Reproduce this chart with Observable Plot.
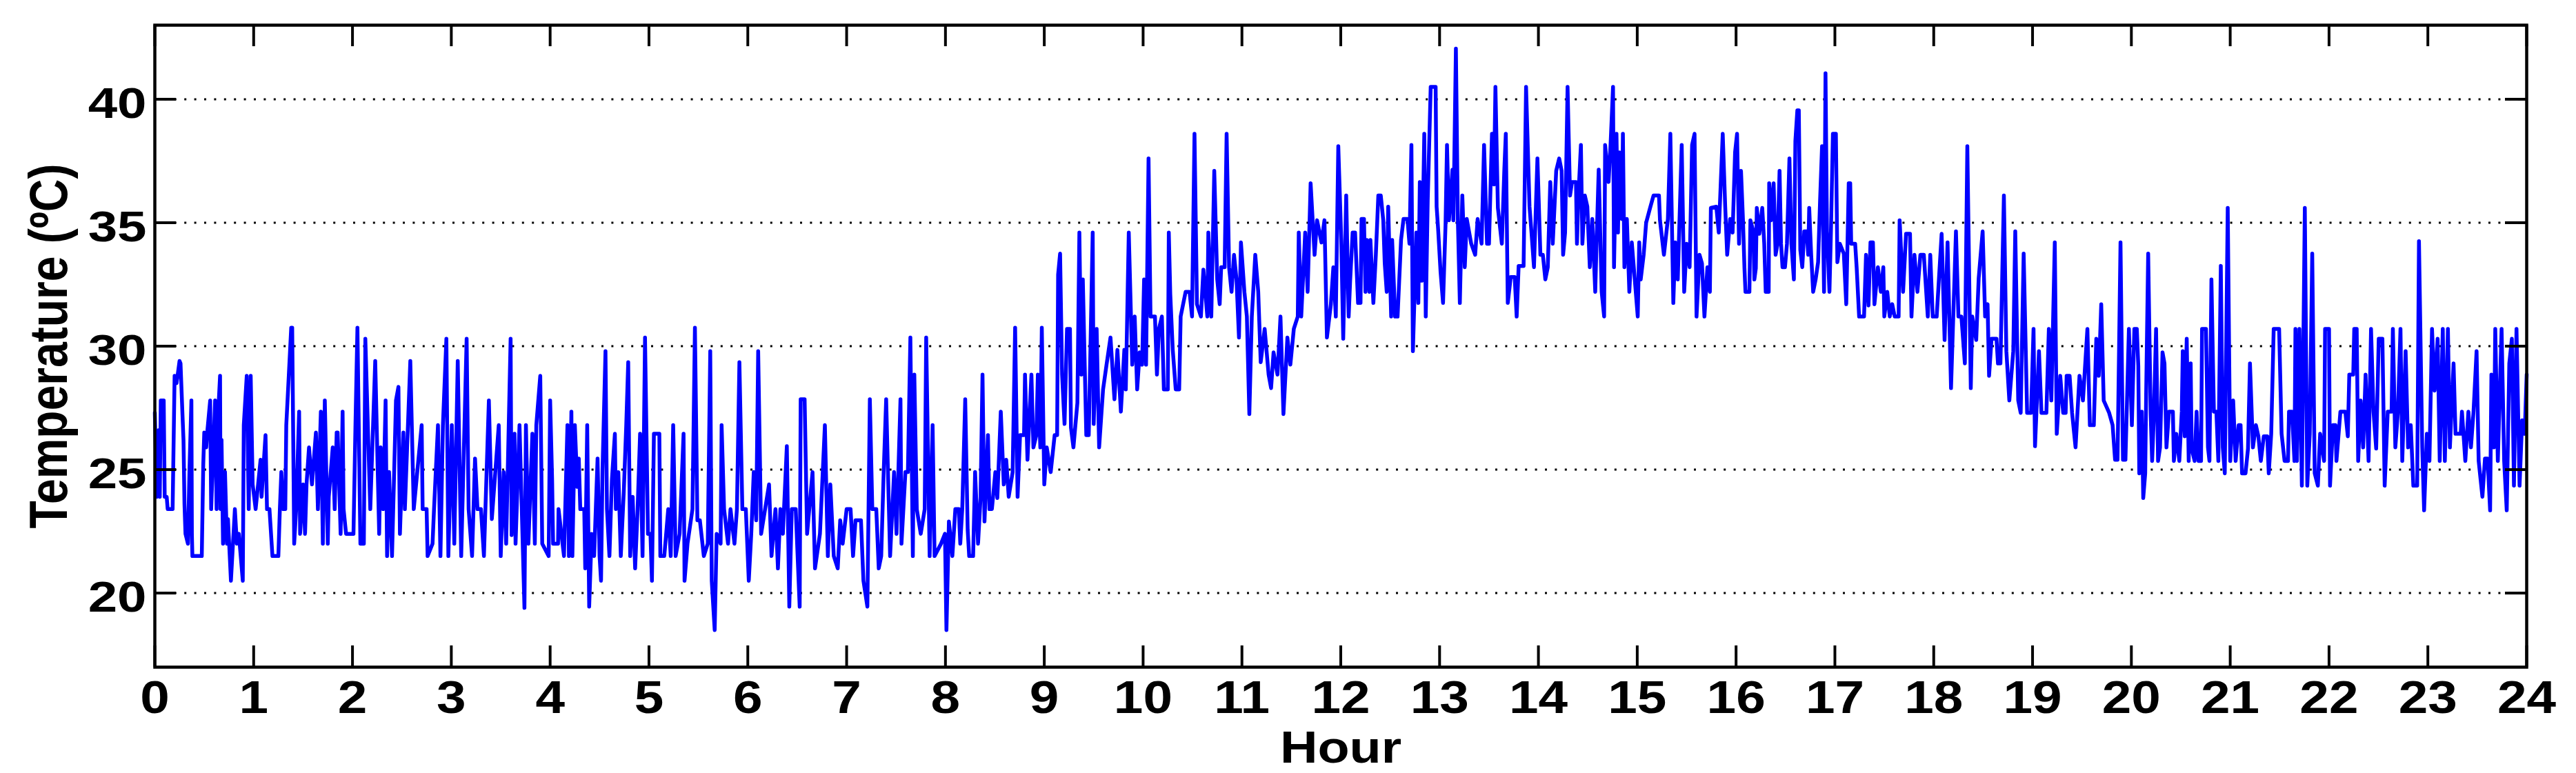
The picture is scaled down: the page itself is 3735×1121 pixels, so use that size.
<!DOCTYPE html>
<html>
<head>
<meta charset="utf-8">
<script src="https://cdn.jsdelivr.net/npm/d3@7"></script>
<script src="https://cdn.jsdelivr.net/npm/@observablehq/plot@0.6"></script>
<style>
html, body { margin: 0; padding: 0; background: #ffffff; }
#chart svg { display: block; }
</style>
</head>
<body>
<div id="chart"></div>
<script>
// ---------- tick values & labels ----------
const xTickValues = [0,1,2,3,4,5,6,7,8,9,10,11,12,13,14,15,16,17,18,19,20,21,22,23,24];
const yTickValues = [20,25,30,35,40];
const xTitle = "Hour";
const yTitle = "Temperature (ºC)";

// ---------- series: [hour, temperature °C] ----------
const hours00to04 = [
[0.00,27.3],[0.02,23.9],[0.04,26.6],[0.05,23.9],[0.06,27.8],[0.09,27.8],[0.10,23.9],[0.12,23.9],[0.13,23.4],[0.18,23.4],
[0.20,28.8],[0.22,28.5],[0.25,29.4],[0.26,29.3],[0.28,27.2],[0.29,26.2],[0.30,23.6],[0.31,22.4],[0.335,22.0],[0.35,24.9],
[0.37,27.8],[0.375,22.4],[0.38,21.5],[0.475,21.5],[0.49,25.2],[0.50,26.5],[0.52,25.9],[0.53,26.5],[0.56,27.8],[0.57,23.4],
[0.61,27.8],[0.625,23.4],[0.64,27.2],[0.66,28.8],[0.665,23.4],[0.675,26.2],[0.69,22.0],[0.71,24.9],[0.73,22.0],[0.74,23.0],
[0.77,20.5],[0.81,23.4],[0.83,22.0],[0.85,22.4],[0.89,20.5],[0.90,26.8],[0.93,28.8],[0.95,23.4],[0.97,28.8],[0.99,24.4],
[1.02,23.4],[1.045,24.4],[1.07,25.4],[1.08,23.9],[1.12,26.4],[1.135,23.4],[1.16,23.4],[1.19,21.5],[1.25,21.5],[1.265,23.4],
[1.28,24.9],[1.30,23.4],[1.32,23.4],[1.33,26.8],[1.38,30.75],[1.39,30.75],[1.41,22.0],[1.43,23.4],[1.46,27.35],[1.47,22.4],
[1.50,24.4],[1.52,22.4],[1.535,24.4],[1.56,25.9],[1.59,24.4],[1.63,26.5],[1.65,23.4],[1.68,27.35],[1.70,22.0],[1.72,27.8],
[1.75,22.0],[1.76,23.9],[1.80,25.9],[1.82,23.4],[1.84,26.5],[1.85,26.5],[1.88,22.4],[1.90,27.35],[1.91,23.4],[1.935,22.4],
[2.01,22.4],[2.03,26.8],[2.05,30.75],[2.08,22.0],[2.115,22.0],[2.13,30.3],[2.18,23.4],[2.23,29.4],[2.27,22.4],[2.285,25.9],
[2.31,23.4],[2.335,27.8],[2.35,21.5],[2.37,24.9],[2.40,21.5],[2.44,27.8],[2.465,28.35],[2.48,22.4],[2.515,26.5],[2.53,23.4],
[2.585,29.4],[2.62,23.4],[2.70,26.8],[2.71,23.4],[2.75,23.4],[2.76,21.5],[2.81,22.0],[2.825,23.4],[2.865,26.8],[2.89,21.5],
[2.915,26.8],[2.95,30.3],[2.97,21.5],[3.005,26.8],[3.03,22.0],[3.065,29.4],[3.10,21.5],[3.155,30.3],[3.175,23.4],[3.21,21.5],
[3.24,25.45],[3.265,23.4],[3.30,23.4],[3.33,21.5],[3.38,27.8],[3.41,23.0],[3.48,26.8],[3.50,21.5],[3.53,24.9],[3.555,22.0],
[3.60,30.3],[3.61,22.35],[3.64,26.45],[3.65,22.0],[3.69,26.8],[3.74,19.4],[3.755,26.8],[3.78,22.0],[3.82,26.45],[3.845,22.0],
[3.86,26.8],[3.90,28.8],[3.92,22.0],[3.985,21.5]
];
const hours04to08 = [
[4.00,27.8],[4.02,24.6],[4.03,22.0],[4.08,22.0],[4.085,23.4],[4.14,21.5],[4.175,26.8],[4.19,21.5],[4.215,27.35],[4.225,21.5],
[4.25,26.8],[4.275,24.3],[4.29,25.45],[4.305,23.4],[4.345,23.4],[4.355,21.0],[4.375,26.8],[4.395,19.45],[4.42,22.4],[4.445,21.5],
[4.48,25.45],[4.50,21.5],[4.515,20.5],[4.53,25.0],[4.56,29.8],[4.575,23.4],[4.60,21.5],[4.625,24.6],[4.655,26.45],[4.665,23.4],
[4.69,24.9],[4.715,21.5],[4.745,24.1],[4.77,26.8],[4.79,29.35],[4.81,21.5],[4.835,23.9],[4.86,21.0],[4.885,23.4],[4.91,26.45],
[4.935,21.5],[4.96,30.35],[4.99,22.4],[5.015,22.4],[5.03,20.5],[5.05,26.45],[5.105,26.45],[5.115,21.5],[5.155,21.5],[5.195,23.4],
[5.22,21.5],[5.245,26.8],[5.27,21.5],[5.31,22.4],[5.35,26.45],[5.36,20.5],[5.39,22.0],[5.44,23.4],[5.465,30.75],[5.49,22.95],
[5.515,22.95],[5.555,21.5],[5.595,22.0],[5.62,29.8],[5.635,20.5],[5.665,18.5],[5.685,22.4],[5.725,22.0],[5.735,26.8],[5.76,23.4],
[5.80,22.0],[5.825,23.4],[5.865,22.0],[5.89,23.4],[5.915,29.35],[5.945,23.4],[5.98,23.4],[6.01,20.5],[6.035,22.4],[6.06,24.9],
[6.085,22.95],[6.105,29.8],[6.135,22.4],[6.175,23.4],[6.215,24.4],[6.24,21.5],[6.28,23.4],[6.305,21.0],[6.33,23.4],[6.355,22.4],
[6.395,25.95],[6.42,19.45],[6.445,23.4],[6.485,23.4],[6.525,19.45],[6.535,27.85],[6.575,27.85],[6.60,22.4],[6.655,24.9],[6.68,21.0],
[6.73,22.4],[6.78,26.8],[6.81,21.5],[6.835,24.4],[6.87,21.5],[6.91,21.0],[6.935,22.95],[6.96,22.0],[7.00,23.4],[7.04,23.4],
[7.065,21.5],[7.09,22.95],[7.145,22.95],[7.17,20.5],[7.21,19.45],[7.235,27.85],[7.26,23.4],[7.30,23.4],[7.325,21.0],[7.35,21.5],
[7.375,24.9],[7.40,27.85],[7.44,21.5],[7.48,24.9],[7.505,22.4],[7.545,27.85],[7.555,22.0],[7.595,24.9],[7.62,24.9],[7.645,30.35],
[7.67,21.5],[7.685,28.85],[7.71,23.4],[7.75,22.4],[7.79,23.4],[7.805,30.35],[7.84,21.5],[7.87,26.8],[7.89,21.5],[7.955,22.0],
[7.995,22.4],[8.01,18.5]
];
const hours08to12 = [
[8.035,22.9],[8.07,21.5],[8.10,23.4],[8.135,23.4],[8.15,22.0],[8.17,23.4],[8.20,27.85],[8.225,22.55],[8.24,21.5],[8.28,21.5],
[8.30,24.9],[8.33,22.0],[8.355,23.85],[8.375,28.85],[8.395,22.9],[8.43,26.4],[8.445,23.4],[8.47,23.4],[8.505,24.9],[8.525,23.85],
[8.56,27.35],[8.59,24.4],[8.615,25.4],[8.64,23.9],[8.68,24.9],[8.705,30.75],[8.73,23.9],[8.755,26.4],[8.795,26.4],[8.805,28.85],
[8.83,25.4],[8.87,28.85],[8.89,25.9],[8.92,26.4],[8.935,28.85],[8.96,25.9],[8.975,30.75],[9.00,24.4],[9.025,25.9],[9.065,24.9],
[9.105,26.4],[9.13,26.4],[9.14,32.9],[9.16,33.75],[9.18,28.85],[9.205,26.85],[9.23,30.7],[9.26,30.7],[9.27,26.7],[9.295,25.9],
[9.335,27.7],[9.355,34.6],[9.375,28.85],[9.39,32.7],[9.425,26.4],[9.45,26.4],[9.49,34.6],[9.50,26.85],[9.53,30.7],[9.555,25.9],
[9.595,28.25],[9.63,29.25],[9.67,30.35],[9.71,27.85],[9.74,29.85],[9.775,27.35],[9.81,29.85],[9.825,28.25],[9.855,34.6],[9.89,29.25],
[9.915,31.2],[9.94,28.25],[9.965,29.75],[9.99,29.25],[10.01,32.7],[10.03,29.25],[10.055,37.6],[10.075,31.2],[10.12,31.2],[10.14,28.85],
[10.16,30.7],[10.19,31.2],[10.21,28.25],[10.25,28.25],[10.26,34.6],[10.275,32.1],[10.30,29.85],[10.33,28.25],[10.365,28.25],[10.38,31.2],
[10.43,32.2],[10.47,32.2],[10.495,31.2],[10.52,38.6],[10.545,31.7],[10.585,31.2],[10.61,33.1],[10.65,31.2],[10.66,34.6],[10.69,31.2],
[10.72,37.1],[10.75,32.7],[10.775,31.7],[10.79,33.2],[10.825,33.2],[10.845,38.6],[10.87,33.2],[10.895,32.2],[10.92,33.7],[10.945,32.7],
[10.97,30.35],[10.99,34.2],[11.025,32.2],[11.05,31.2],[11.075,27.25],[11.10,31.2],[11.135,33.7],[11.165,32.2],[11.19,29.35],[11.23,30.7],
[11.27,28.85],[11.295,28.3],[11.32,29.75],[11.36,28.85],[11.39,31.2],[11.42,27.25],[11.46,30.35],[11.49,29.25],[11.525,30.7],[11.565,31.2],
[11.575,34.6],[11.60,31.2],[11.64,34.6],[11.665,32.2],[11.695,36.6],[11.735,33.7],[11.76,35.1],[11.805,34.2],[11.835,35.1],[11.86,30.35],
[11.90,31.7],[11.925,33.2],[11.95,31.2],[11.975,38.1]
];
const hours12to16 = [
[12.005,34.3],[12.025,30.3],[12.055,36.1],[12.08,31.2],[12.095,32.65],[12.12,34.6],[12.145,34.6],[12.175,31.75],[12.20,31.75],[12.21,35.15],
[12.235,35.15],[12.25,32.2],[12.265,34.3],[12.29,32.2],[12.30,34.3],[12.33,31.75],[12.355,33.7],[12.38,36.1],[12.405,36.1],[12.43,35.1],
[12.445,33.35],[12.465,32.2],[12.48,35.65],[12.51,31.2],[12.52,34.3],[12.55,31.2],[12.575,31.2],[12.61,34.3],[12.635,35.15],[12.675,35.15],
[12.695,34.15],[12.715,38.15],[12.73,29.8],[12.765,34.6],[12.785,31.75],[12.80,36.65],[12.82,32.65],[12.845,38.6],[12.86,31.2],[12.88,35.9],
[12.91,40.5],[12.96,40.5],[12.97,35.65],[12.985,34.75],[13.01,33.0],[13.035,31.75],[13.06,34.9],[13.075,38.15],[13.095,35.1],[13.13,37.15],
[13.14,35.1],[13.165,42.05],[13.185,35.1],[13.205,31.75],[13.23,36.1],[13.255,33.2],[13.275,35.15],[13.32,34.15],[13.36,33.7],[13.385,35.15],
[13.425,34.15],[13.45,38.15],[13.48,34.15],[13.50,34.15],[13.53,38.6],[13.55,36.55],[13.565,40.5],[13.59,35.6],[13.63,34.15],[13.655,37.15],
[13.67,38.6],[13.69,31.75],[13.72,32.8],[13.76,32.8],[13.78,31.2],[13.80,33.25],[13.85,33.25],[13.875,40.5],[13.91,35.65],[13.93,34.6],
[13.955,33.2],[13.99,37.6],[14.02,33.7],[14.045,33.7],[14.07,32.7],[14.095,33.2],[14.12,36.65],[14.145,34.15],[14.18,37.1],[14.21,37.6],
[14.235,37.1],[14.25,33.7],[14.27,34.6],[14.295,40.5],[14.32,36.1],[14.34,36.65],[14.38,36.65],[14.39,34.15],[14.405,36.1],[14.43,38.15],
[14.445,34.15],[14.47,36.1],[14.495,35.65],[14.52,33.2],[14.545,35.15],[14.575,32.2],[14.585,33.7],[14.61,37.15],[14.64,32.2],[14.665,31.2],
[14.675,38.15],[14.71,36.65],[14.73,38.15],[14.755,40.5],[14.765,33.2],[14.79,38.6],[14.805,34.6],[14.82,37.85],[14.845,35.15],[14.855,38.6],
[14.87,33.2],[14.895,35.15],[14.92,32.2],[14.945,34.2],[14.975,32.7],[15.005,31.2],[15.02,34.2],[15.035,32.7],[15.065,33.7],[15.09,35.0],
[15.13,35.6],[15.165,36.1],[15.22,36.1],[15.23,35.1],[15.27,33.7],[15.31,35.15],[15.335,38.6],[15.365,31.75],[15.385,34.2],[15.41,32.7],
[15.45,38.15],[15.475,32.2],[15.50,34.15],[15.53,33.2],[15.555,38.15],[15.58,38.6],[15.60,31.2],[15.63,33.7],[15.655,33.35],[15.68,31.2],
[15.71,33.2],[15.735,32.2],[15.745,35.6],[15.80,35.65],[15.825,34.6],[15.865,38.6],[15.89,35.65],[15.91,33.7],[15.94,35.15],[15.965,34.6],
[15.99,37.85]
];
const hours16to20 = [
[16.01,38.6],[16.03,34.15],[16.05,37.1],[16.07,35.1],[16.085,33.15],[16.095,32.2],[16.135,32.2],[16.145,35.1],[16.175,34.65],[16.185,32.7],
[16.20,33.15],[16.21,35.6],[16.235,34.55],[16.265,35.6],[16.285,34.15],[16.30,32.2],[16.33,32.2],[16.335,36.6],[16.355,35.1],[16.38,36.6],
[16.40,33.7],[16.42,34.15],[16.44,37.1],[16.455,34.15],[16.47,33.2],[16.495,33.2],[16.515,34.15],[16.54,37.6],[16.56,34.15],[16.585,32.7],
[16.60,38.3],[16.62,39.55],[16.635,39.55],[16.65,33.9],[16.67,33.2],[16.69,34.65],[16.715,34.65],[16.73,33.7],[16.74,35.6],[16.76,33.7],
[16.78,32.2],[16.805,32.7],[16.83,33.4],[16.85,35.9],[16.87,38.1],[16.89,32.2],[16.905,41.05],[16.92,34.65],[16.945,32.2],[16.96,34.65],
[16.98,38.6],[17.01,38.6],[17.025,33.4],[17.05,34.15],[17.09,33.75],[17.115,31.7],[17.14,36.6],[17.155,36.6],[17.165,34.15],[17.205,34.15],
[17.22,33.2],[17.245,31.2],[17.295,31.2],[17.315,33.7],[17.34,31.65],[17.36,34.2],[17.385,34.2],[17.40,31.7],[17.435,33.2],[17.465,32.2],
[17.49,33.2],[17.50,31.2],[17.53,32.2],[17.555,31.2],[17.58,31.7],[17.605,31.2],[17.645,31.2],[17.655,35.1],[17.69,32.2],[17.72,34.55],
[17.76,34.55],[17.775,31.2],[17.805,33.7],[17.835,32.2],[17.865,33.7],[17.90,33.7],[17.94,31.2],[17.965,33.7],[17.99,31.2],[18.03,31.2],
[18.045,32.2],[18.08,34.55],[18.11,30.25],[18.14,34.2],[18.175,28.3],[18.225,34.65],[18.25,31.2],[18.28,31.2],[18.315,29.3],[18.34,38.1],
[18.375,28.3],[18.39,31.2],[18.43,30.25],[18.455,32.75],[18.495,34.65],[18.52,31.2],[18.545,31.7],[18.56,28.8],[18.585,30.3],[18.635,30.3],
[18.65,29.3],[18.675,29.3],[18.71,36.1],[18.735,29.8],[18.765,27.8],[18.805,29.8],[18.825,34.65],[18.855,27.8],[18.88,27.3],[18.91,33.75],
[18.945,27.3],[18.985,27.3],[19.01,30.7],[19.025,25.95],[19.065,29.8],[19.09,27.3],[19.14,27.3],[19.165,30.7],[19.19,27.8],[19.225,34.2],
[19.245,26.45],[19.28,28.8],[19.31,27.3],[19.335,27.3],[19.345,28.8],[19.375,28.8],[19.40,27.3],[19.435,25.9],[19.475,28.8],[19.51,27.8],
[19.555,30.7],[19.58,26.8],[19.62,26.8],[19.645,30.3],[19.67,28.8],[19.695,31.7],[19.72,27.8],[19.775,27.3],[19.81,26.8],[19.835,25.4],
[19.86,25.4],[19.89,34.2],[19.915,25.4],[19.94,25.4],[19.975,30.7]
];
const hours20to24 = [
[20.005,26.8],[20.03,30.7],[20.055,30.7],[20.07,29.2],[20.08,24.85],[20.105,27.35],[20.12,23.85],[20.14,24.85],[20.15,28.2],[20.17,33.75],
[20.195,27.25],[20.21,25.35],[20.225,26.9],[20.25,30.7],[20.27,25.35],[20.29,25.9],[20.315,29.75],[20.335,29.3],[20.355,25.9],[20.38,27.35],
[20.42,27.35],[20.43,25.35],[20.455,26.45],[20.485,25.35],[20.51,27.35],[20.52,29.8],[20.54,26.35],[20.56,30.3],[20.58,25.35],[20.60,29.3],
[20.61,25.85],[20.64,25.35],[20.66,27.35],[20.68,25.35],[20.705,25.35],[20.715,30.7],[20.755,30.7],[20.775,25.9],[20.79,25.35],[20.81,32.7],
[20.835,27.35],[20.86,27.35],[20.88,25.35],[20.905,33.25],[20.925,25.9],[20.945,24.85],[20.975,35.6],[21.0,25.35],[21.03,27.8],[21.055,25.35],
[21.085,26.8],[21.105,26.8],[21.12,24.85],[21.155,24.85],[21.18,25.85],[21.20,29.3],[21.23,25.9],[21.26,26.8],[21.285,26.35],[21.31,25.35],
[21.34,26.35],[21.375,26.35],[21.39,24.85],[21.415,26.45],[21.44,30.7],[21.495,30.7],[21.52,26.45],[21.55,25.35],[21.585,25.35],[21.595,27.35],
[21.625,27.35],[21.65,25.35],[21.66,30.7],[21.675,25.35],[21.70,30.7],[21.725,24.35],[21.755,35.6],[21.78,24.35],[21.805,26.45],[21.83,33.75],
[21.855,24.85],[21.887,24.35],[21.91,26.45],[21.95,25.35],[21.96,30.7],[22.0,30.7],[22.01,24.35],[22.04,26.8],[22.065,26.8],[22.075,25.35],
[22.115,27.35],[22.165,27.35],[22.19,26.35],[22.205,28.85],[22.245,28.85],[22.255,30.7],[22.28,30.7],[22.295,25.35],[22.32,27.8],[22.345,25.9],
[22.37,28.85],[22.40,25.35],[22.425,30.7],[22.45,27.35],[22.477,25.85],[22.503,30.3],[22.54,30.3],[22.563,24.35],[22.594,27.35],[22.633,27.35],
[22.646,30.7],[22.671,25.9],[22.697,27.35],[22.723,30.7],[22.741,25.35],[22.775,29.8],[22.80,25.9],[22.827,26.8],[22.853,24.35],[22.892,24.35],
[22.91,34.25],[22.943,25.9],[22.962,23.35],[22.99,26.45],[23.016,25.35],[23.042,30.7],[23.068,28.2],[23.099,30.3],[23.12,25.35],[23.151,30.7],
[23.172,25.35],[23.203,30.7],[23.223,25.9],[23.26,29.3],[23.28,26.45],[23.332,26.45],[23.345,27.35],[23.379,25.35],[23.41,27.35],[23.436,25.9],
[23.462,27.35],[23.493,29.8],[23.514,25.35],[23.552,23.9],[23.578,25.45],[23.604,25.45],[23.63,23.35],[23.643,28.85],[23.669,25.9],[23.682,30.7],
[23.708,25.35],[23.746,30.7],[23.772,25.35],[23.798,23.35],[23.824,29.3],[23.85,30.3],[23.871,24.35],[23.897,30.7],[23.928,24.35],[23.954,27.0],
[23.98,26.45],[24.0,28.85]
];

const series = [hours00to04, hours04to08, hours08to12, hours12to16, hours16to20, hours20to24]
  .flat()
  .map(([hour, temp]) => ({hour, temp}));

// ---------- layout ----------
const W = 3735, H = 1121;
const mL = 224, mR = 72, mT = 36, mB = 154;
const xDomain = [0, 24], yDomain = [17, 43];
const tickLen = 31;
const pxPerX = (W - mL - mR) / (xDomain[1] - xDomain[0]);
const pxPerY = (H - mT - mB) / (yDomain[1] - yDomain[0]);
const tX = tickLen / pxPerX, tY = tickLen / pxPerY;
const FONT = "'Liberation Sans', Arial, Helvetica, sans-serif";

const chart = Plot.plot({
  width: W, height: H,
  marginLeft: mL, marginRight: mR, marginTop: mT, marginBottom: mB,
  style: {background: "#ffffff", fontFamily: FONT, color: "black"},
  x: {domain: xDomain, axis: null},
  y: {domain: yDomain, axis: null},
  marks: [
    Plot.ruleY(yTickValues, {stroke: "black", strokeWidth: 3, strokeDasharray: "3,11.4"}),
    Plot.line(series, {x: "hour", y: "temp", stroke: "#0000ff", strokeWidth: 5.5}),
    Plot.ruleX(xTickValues, {y1: yDomain[0], y2: yDomain[0] + tY, stroke: "black", strokeWidth: 4}),
    Plot.ruleX(xTickValues, {y1: yDomain[1] - tY, y2: yDomain[1], stroke: "black", strokeWidth: 4}),
    Plot.ruleY(yTickValues, {x1: xDomain[0], x2: xDomain[0] + tX, stroke: "black", strokeWidth: 4}),
    Plot.ruleY(yTickValues, {x1: xDomain[1] - tX, x2: xDomain[1], stroke: "black", strokeWidth: 4}),
    Plot.frame({stroke: "black", strokeWidth: 4.5}),
    Plot.text(xTickValues, {x: d => d, y: yDomain[0], dy: 45, text: d => String(d),
      fontSize: 66, fontWeight: "bold", fill: "black", textAnchor: "middle"}),
    Plot.text(yTickValues, {x: xDomain[0], y: d => d, dx: -12, dy: 7, text: d => String(d),
      fontSize: 62, fontWeight: "bold", fill: "black", textAnchor: "end"}),
    Plot.text([xTitle], {x: (xDomain[0] + xDomain[1]) / 2, y: yDomain[0], dy: 118.5, text: d => d,
      fontSize: 64, fontWeight: "bold", fill: "black", textAnchor: "middle"}),
    Plot.text([yTitle], {x: xDomain[0], y: 30, dx: -152, rotate: -90, text: d => d,
      fontSize: 66, fontWeight: "bold", fill: "black", textAnchor: "middle"})
  ]
});

document.getElementById("chart").appendChild(chart);

// widen glyphs like the reference rendering (text stays real text)
function stretch(group, sx, sy) {
  if (!group) return;
  group.querySelectorAll("text").forEach(el => {
    let t = el.getAttribute("transform");
    if (!t) {
      const x = el.getAttribute("x") || 0, y = el.getAttribute("y") || 0;
      el.removeAttribute("x"); el.removeAttribute("y");
      t = `translate(${x},${y})`;
    }
    el.setAttribute("transform", `${t} scale(${sx},${sy})`);
  });
}
const textGroups = chart.querySelectorAll('g[aria-label="text"]');
stretch(textGroups[0], 1.16, 1);
stretch(textGroups[1], 1.23, 1);
stretch(textGroups[2], 1.18, 1);
stretch(textGroups[3], 1, 1.17);
</script>
</body>
</html>
